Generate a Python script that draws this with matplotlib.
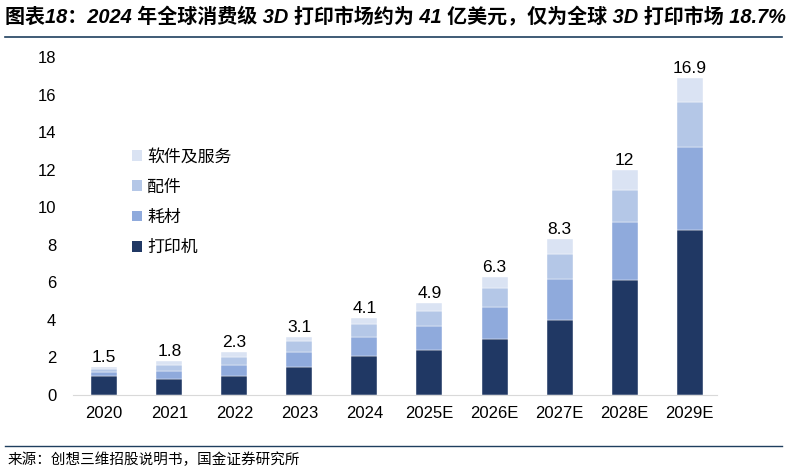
import matplotlib
matplotlib.use("Agg")
import matplotlib.pyplot as plt
from matplotlib.lines import Line2D
from matplotlib.patches import Patch
import numpy as np

plt.rcParams['font.family'] = ['Liberation Sans', 'Noto Sans CJK SC', 'DejaVu Sans']

years = ['2020', '2021', '2022', '2023', '2024', '2025E', '2026E', '2027E', '2028E', '2029E']
totals = [1.5, 1.8, 2.3, 3.1, 4.1, 4.9, 6.3, 8.3, 12, 16.9]
printer = [1.0, 0.85, 1.0, 1.5, 2.1, 2.4, 3.0, 4.0, 6.1, 8.8]       # 打印机
material = [0.2, 0.42, 0.6, 0.8, 1.0, 1.3, 1.7, 2.2, 3.1, 4.4]      # 耗材
parts = [0.2, 0.33, 0.4, 0.6, 0.7, 0.8, 1.0, 1.3, 1.7, 2.4]         # 配件
service = [0.1, 0.2, 0.3, 0.2, 0.3, 0.4, 0.6, 0.8, 1.1, 1.3]        # 软件及服务

names = ['打印机', '耗材', '配件', '软件及服务']
colors = ['#203864', '#8FAADC', '#B4C7E7', '#DAE3F3']

fig = plt.figure(figsize=(7.87, 4.72), dpi=100)
ax = fig.add_axes([73 / 787, 1 - 395 / 472, 644 / 787, 338 / 472])

x = np.arange(len(years))
bottom = np.zeros(len(years))
for vals, c in zip([printer, material, parts, service], colors):
    ax.bar(x, vals, width=0.4, bottom=bottom, color=c, edgecolor='white', linewidth=0.3)
    bottom += np.array(vals)

for i, t in enumerate(totals):
    ax.text(x[i], bottom[i] + 0.1, str(t), ha='center', va='bottom', fontsize=12.5)

ax.set_xlim(-0.48, 9.42)
ax.set_ylim(0, 18)
ax.set_yticks(range(0, 19, 2))
ax.set_xticks(x)
ax.set_xticklabels(years)
ax.tick_params(axis='both', length=0, labelsize=12)
ax.tick_params(axis='y', pad=12)
ax.tick_params(axis='x', pad=8)
for s in ['top', 'right', 'left']:
    ax.spines[s].set_visible(False)
ax.spines['bottom'].set_color('#D9D9D9')

handles = [Patch(facecolor=c, edgecolor='none') for c in colors]
ax.legend(handles[::-1], names[::-1], loc='upper left', bbox_to_anchor=(0.068, 0.775),
          frameon=False, fontsize=12.2, handlelength=0.6, handleheight=0.6,
          handletextpad=0.3, labelspacing=0.9)

fig.text(5 / 787, 1 - 17 / 472, '图表18：2024 年全球消费级 3D 打印市场约为 41 亿美元，仅为全球 3D 打印市场 18.7%',
         fontsize=14.4, fontweight='bold', fontstyle='italic', va='center', ha='left')
fig.add_artist(Line2D([5 / 787, 782 / 787], [1 - 37 / 472, 1 - 37 / 472], color='#1F3F5F', linewidth=1.2))
fig.add_artist(Line2D([5 / 787, 782 / 787], [1 - 446 / 472, 1 - 446 / 472], color='#1F3F5F', linewidth=1.0))
fig.text(8 / 787, 1 - 460 / 472, '来源：创想三维招股说明书，国金证券研究所', fontsize=10.5,
         family=['Noto Sans CJK SC'], va='center', ha='left')

fig.savefig('out.png', dpi=100)
